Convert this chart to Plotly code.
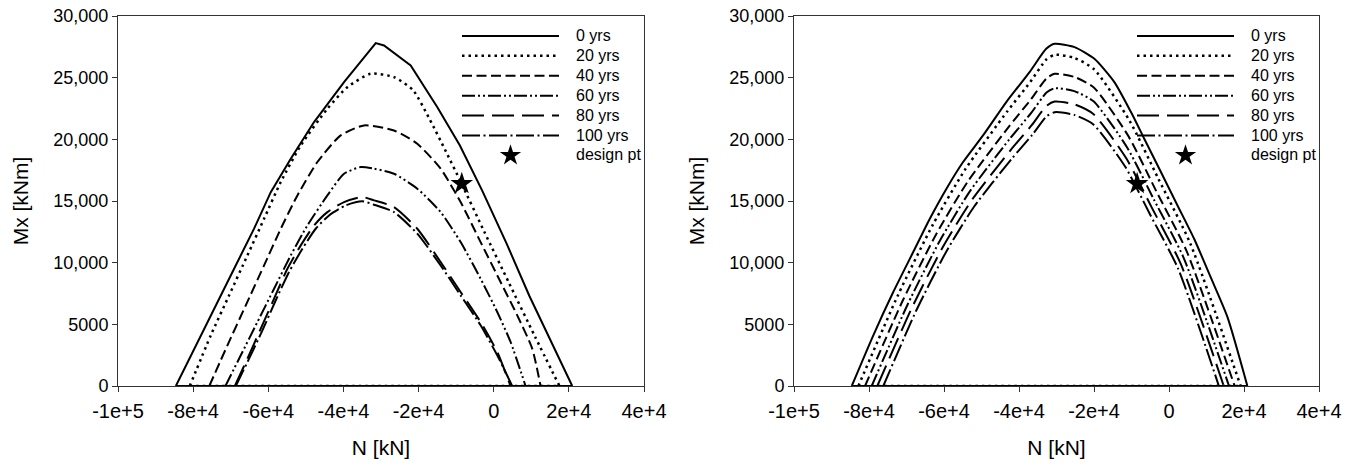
import plotly.graph_objects as go

# ---------------- data (N [kN], Mx [kNm]) ----------------
years = ["0 yrs", "20 yrs", "40 yrs", "60 yrs", "80 yrs", "100 yrs"]

# Left panel
L0_N = [-84600, -79730, -74420, -69100, -63780, -59340, -54020, -47820, -39840, -31400, -29200, -22100, -15000, -9000, -3000, 3500, 9500, 15500, 20900]
L0_M = [0, 3030, 6270, 9510, 12760, 15720, 18430, 21400, 24640, 27800, 27610, 25990, 22600, 19500, 15800, 11500, 7300, 3500, 0]
L20_N = [-80900, -75300, -70430, -65550, -61120, -56680, -51360, -44270, -38950, -32740, -26540, -21500, -17000, -12700, -8540, -2500, 4000, 11000, 17500]
L20_M = [0, 4110, 7350, 10590, 13560, 16540, 19510, 22480, 24230, 25320, 25040, 24000, 21600, 19000, 16400, 12500, 8400, 4000, 0]
L40_N = [-75700, -70870, -65990, -61120, -56680, -52250, -46930, -40730, -34520, -26540, -20340, -14130, -8810, -3490, 1830, 6260, 10250, 12470]
L40_M = [0, 3300, 6540, 9780, 12750, 15450, 18160, 20320, 21130, 20720, 19640, 17620, 14910, 11670, 8430, 5730, 3030, 0]
L60_N = [-71400, -67320, -62890, -58460, -54020, -49590, -44270, -39840, -35410, -31860, -26540, -20340, -14130, -8810, -3490, 940, 4490, 8480]
L60_M = [0, 2490, 5190, 7890, 10590, 13020, 15450, 17210, 17750, 17620, 17210, 16000, 14100, 11670, 8700, 6000, 3570, 0]
L80_N = [-68900, -65550, -62000, -58460, -54910, -51360, -47820, -44270, -39840, -34960, -31860, -26540, -20340, -14130, -8810, -3490, 940, 4490]
L80_M = [0, 2220, 4650, 7080, 9510, 11400, 13020, 14100, 14910, 15320, 15050, 14510, 12750, 10050, 7620, 5190, 2760, 0]
L100_N = [-68650, -65110, -61560, -58010, -54470, -50920, -47380, -43830, -39400, -34960, -31860, -26540, -20340, -14130, -8810, -3490, 940, 4930]
L100_M = [0, 2220, 4510, 6950, 9240, 11130, 12750, 13830, 14640, 14970, 14700, 14100, 12350, 9780, 7350, 4920, 2490, 0]

# Right panel
R0_N = [-84600, -78850, -73530, -68210, -63780, -59340, -54910, -49590, -43390, -37180, -32750, -30500, -25200, -19900, -14570, -10140, -6600, -2160, 2270, 6700, 11140, 15570, 20900]
R0_M = [0, 4110, 7620, 10860, 13560, 16000, 18160, 20320, 23020, 25450, 27340, 27750, 27480, 26530, 24640, 22210, 20050, 17350, 14640, 11940, 8800, 5600, 0]
R20_N = [-82830, -72250, -62880, -54300, -43090, -37030, -32720, -30500, -25220, -19980, -10500, -2840, 5670, 19100]
R20_M = [0, 7380, 13130, 17580, 22280, 24640, 26470, 26860, 26600, 25680, 21500, 16800, 11560, 0]
R40_N = [-81060, -70960, -61970, -53690, -42790, -36890, -32700, -30500, -25230, -20050, -10820, -3440, 4760, 17500]
R40_M = [0, 6950, 12370, 16560, 20990, 23210, 24930, 25310, 25060, 24200, 20260, 15820, 10890, 0]
R60_N = [-79280, -69670, -61060, -53070, -42490, -36740, -32670, -30500, -25250, -20120, -11120, -4000, 3910, 16000]
R60_M = [0, 6630, 11800, 15800, 20030, 22140, 23790, 24140, 23910, 23080, 19320, 15100, 10390, 0]
R80_N = [-77780, -68590, -60300, -52550, -42230, -36610, -32650, -30500, -25260, -20180, -11400, -4520, 3110, 14600]
R80_M = [0, 6330, 11270, 15090, 19130, 21150, 22720, 23060, 22840, 22050, 18460, 14420, 9920, 0]
R100_N = [-76180, -67430, -59480, -52000, -41960, -36480, -32620, -30500, -25270, -20230, -11660, -5010, 2370, 13300]
R100_M = [0, 6100, 10850, 14530, 18420, 20360, 21870, 22200, 21980, 21220, 17770, 13880, 9550, 0]

design_N = [-8500]
design_M = [16400]

x_tickvals = [-100000, -80000, -60000, -40000, -20000, 0, 20000, 40000]
x_ticktext = ["-1e+5", "-8e+4", "-6e+4", "-4e+4", "-2e+4", "0", "2e+4", "4e+4"]
y_tickvals = [0, 5000, 10000, 15000, 20000, 25000, 30000]
y_ticktext = ["0", "5000", "10,000", "15,000", "20,000", "25,000", "30,000"]

# ---------------- styles ----------------
dashes = ["solid", "2.5px,4px", "10px,4.5px", "13px,3px,2px,3px,2px,3px", "22px,8px", "18px,3.5px,2px,3.5px"]
widths = [2, 2.5, 2, 2, 2, 2]

left = [(L0_N, L0_M), (L20_N, L20_M), (L40_N, L40_M), (L60_N, L60_M), (L80_N, L80_M), (L100_N, L100_M)]
right = [(R0_N, R0_M), (R20_N, R20_M), (R40_N, R40_M), (R60_N, R60_M), (R80_N, R80_M), (R100_N, R100_M)]

FONT = "Liberation Sans, Arial, sans-serif"
PAD = "\u2002\u2005"  # small gap between legend sample and its text


def lab(t):
    return "<span style='font-size:16px'>" + PAD + t + "</span>"


fig = go.Figure()
for panel, (series, xa, ya, lg) in enumerate([(left, "x", "y", "legend"), (right, "x2", "y2", "legend2")]):
    for i, (n, m) in enumerate(series):
        sharp = (panel == 0 and i == 0)
        fig.add_trace(go.Scatter(
            x=n, y=m, mode="lines", name=lab(years[i]), xaxis=xa, yaxis=ya, legend=lg,
            line=dict(color="black", width=widths[i], dash=dashes[i],
                      shape="linear" if sharp else "spline", smoothing=0.6),
            hoverinfo="skip"))
        # closing segment of the interaction curve along Mx = 0
        fig.add_trace(go.Scatter(
            x=[n[0], n[-1]], y=[m[0], m[-1]], mode="lines", showlegend=False, xaxis=xa, yaxis=ya,
            line=dict(color="black", width=widths[i], dash=dashes[i]), hoverinfo="skip"))
    fig.add_trace(go.Scatter(
        x=design_N, y=design_M, mode="markers", name=lab("design pt"), xaxis=xa, yaxis=ya, legend=lg,
        marker=dict(symbol="star", size=17, color="black", line=dict(width=0)),
        hoverinfo="skip"))

W, H = 1354, 468
dom_x1 = [118 / W, 644 / W]
dom_x2 = [794 / W, 1319 / W]
dom_y = [1 - 386 / H, 1 - 16 / H]

axis_common = dict(
    showline=True, linecolor="#333", linewidth=1, mirror=True, automargin=False,
    ticks="outside", ticklen=5, tickcolor="#333", showgrid=False, zeroline=False,
)
xcommon = dict(axis_common, range=[-100000, 40000], tickvals=x_tickvals, ticktext=x_ticktext,
               tickfont=dict(family=FONT, size=20, color="black"), ticklabelstandoff=2,
               title=dict(text="N [kN]", font=dict(family=FONT, size=21, color="black"), standoff=19))
ycommon = dict(axis_common, range=[0, 30000], tickvals=y_tickvals, ticktext=y_ticktext,
               tickfont=dict(family=FONT, size=18, color="black"),
               title=dict(text="Mx [kNm]", font=dict(family=FONT, size=21, color="black"), standoff=18))

legend_common = dict(
    yanchor="top", xanchor="right", bgcolor="rgba(0,0,0,0)", borderwidth=0,
    font=dict(family=FONT, size=13, color="black"), itemwidth=97, tracegroupgap=0,
    itemclick=False, itemdoubleclick=False,
)

fig.update_layout(
    width=W, height=H, margin=dict(l=0, r=0, t=0, b=0),
    paper_bgcolor="white", plot_bgcolor="white",
    showlegend=True,
    xaxis=dict(xcommon, domain=dom_x1, anchor="y"),
    yaxis=dict(ycommon, domain=dom_y, anchor="x"),
    xaxis2=dict(xcommon, domain=dom_x2, anchor="y2"),
    yaxis2=dict(ycommon, domain=dom_y, anchor="x2"),
    legend=dict(legend_common, x=(644 + 3) / W, y=dom_y[1] - 5 / H),
    legend2=dict(legend_common, x=(1319 + 3) / W, y=dom_y[1] - 5 / H),
)

fig.write_html("out.html")
